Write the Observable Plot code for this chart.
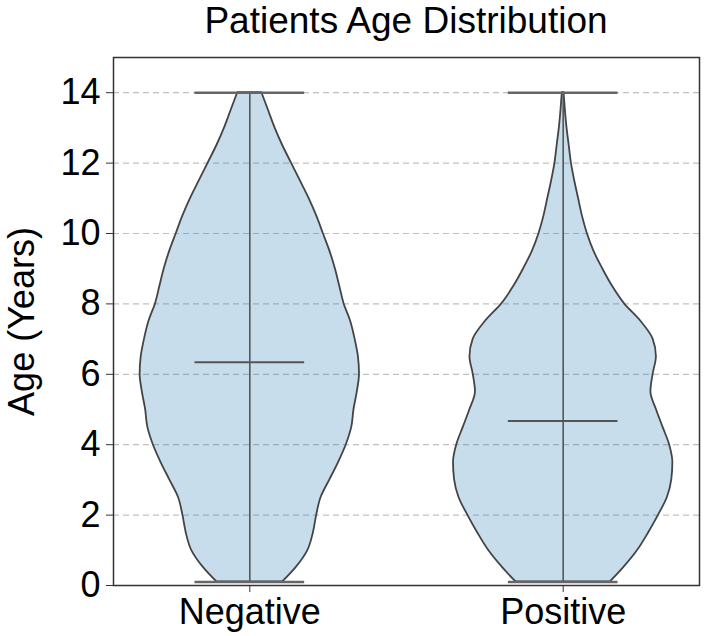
<!DOCTYPE html>
<html><head><meta charset="utf-8">
<script src="https://cdn.jsdelivr.net/npm/d3@7"></script>
<script src="https://cdn.jsdelivr.net/npm/@observablehq/plot@0.6"></script>
<style>
body{margin:0;background:#fff;font-family:"Liberation Sans",Arial,sans-serif;}
#title{width:704px;height:50px;box-sizing:border-box;padding-left:108px;padding-top:1px;text-align:center;font-size:37px;line-height:40px;color:#000;}
</style></head><body>
<div id="title">Patients Age Distribution</div>
<div id="chart"></div>
<script>
const categories = ["Negative", "Positive"];
const ages = [0.1, 0.5, 1, 1.5, 2, 2.5, 3, 3.5, 4, 4.5, 5, 5.5, 6, 6.5, 7, 7.5, 8, 8.5, 9, 9.5, 10, 10.5, 11, 11.5, 12, 12.5, 13, 13.5, 14];
// relative density (% of each violin's own maximum)
const negativeDensity = [30, 42, 53, 58, 61, 65, 73, 81, 88, 93, 95, 98, 100, 99, 96, 92, 86, 82, 78, 73, 67, 61, 54, 46, 38, 30, 23, 17, 11];
const positiveDensity = [43, 55, 68, 78, 87, 95, 99, 100, 97, 91, 85, 80, 82, 85, 82, 71, 56, 45, 36, 28, 22, 17.5, 14, 10.5, 7.5, 5.5, 3.5, 2, 0.8];
const minAge = [0.1, 0.1];
const maxAge = [14, 14];
const meanAge = [6.34, 4.67];
const yTicks = [0, 2, 4, 6, 8, 10, 12, 14];

const densities = [negativeDensity, positiveDensity];
const halfWidth = 0.35;
const rows = categories.flatMap((c, i) => ages.map((a, j) => ({
  cat: c, pos: i + 1, age: a,
  x1: i + 1 - halfWidth * densities[i][j] / 100,
  x2: i + 1 + halfWidth * densities[i][j] / 100
})));
const stats = categories.map((c, i) => ({cat: c, pos: i + 1, min: minAge[i], max: maxAge[i], mean: meanAge[i]}));
const barX1 = d => d.pos - halfWidth / 2;
const barX2 = d => d.pos + halfWidth / 2;

const chart = Plot.plot({
  width: 704, height: 586,
  marginTop: 7, marginBottom: 51, marginLeft: 113, marginRight: 5,
  style: {fontFamily: '"Liberation Sans", Arial, sans-serif', fontSize: "36px", color: "#000", background: "#fff"},
  x: {domain: [0.565, 2.435]},
  y: {domain: [0, 15]},
  marks: [
    Plot.gridY(yTicks, {stroke: "#b0b0b0", strokeOpacity: 0.8, strokeDasharray: "6,4", strokeWidth: 1.2}),
    Plot.areaX(rows, {y: "age", x1: "x1", x2: "x2", z: "cat", fill: "#1f77b4", fillOpacity: 0.25, stroke: "#444", strokeWidth: 1.8, curve: "monotone-y"}),
    Plot.ruleX(stats, {x: "pos", y1: "min", y2: "max", stroke: "#555", strokeWidth: 1.6}),
    Plot.ruleY(stats, {y: "max", x1: barX1, x2: barX2, stroke: "#666", strokeWidth: 2.5}),
    Plot.ruleY(stats, {y: "min", x1: barX1, x2: barX2, stroke: "#666", strokeWidth: 2.5}),
    Plot.ruleY(stats, {y: "mean", x1: barX1, x2: barX2, stroke: "#555", strokeWidth: 2}),
    Plot.frame({stroke: "#333", strokeWidth: 1.5}),
    Plot.axisY(yTicks, {tickSize: 7, tickPadding: 6, stroke: "#333", label: "Age (Years)", labelAnchor: "center", labelArrow: "none", labelOffset: 105, fontSize: 36}),
    Plot.axisX([1, 2], {tickSize: 7, tickPadding: 6, stroke: "#333", tickFormat: d => categories[d - 1], label: null, fontSize: 36})
  ]
});
document.getElementById("chart").appendChild(chart);
</script>
</body></html>
